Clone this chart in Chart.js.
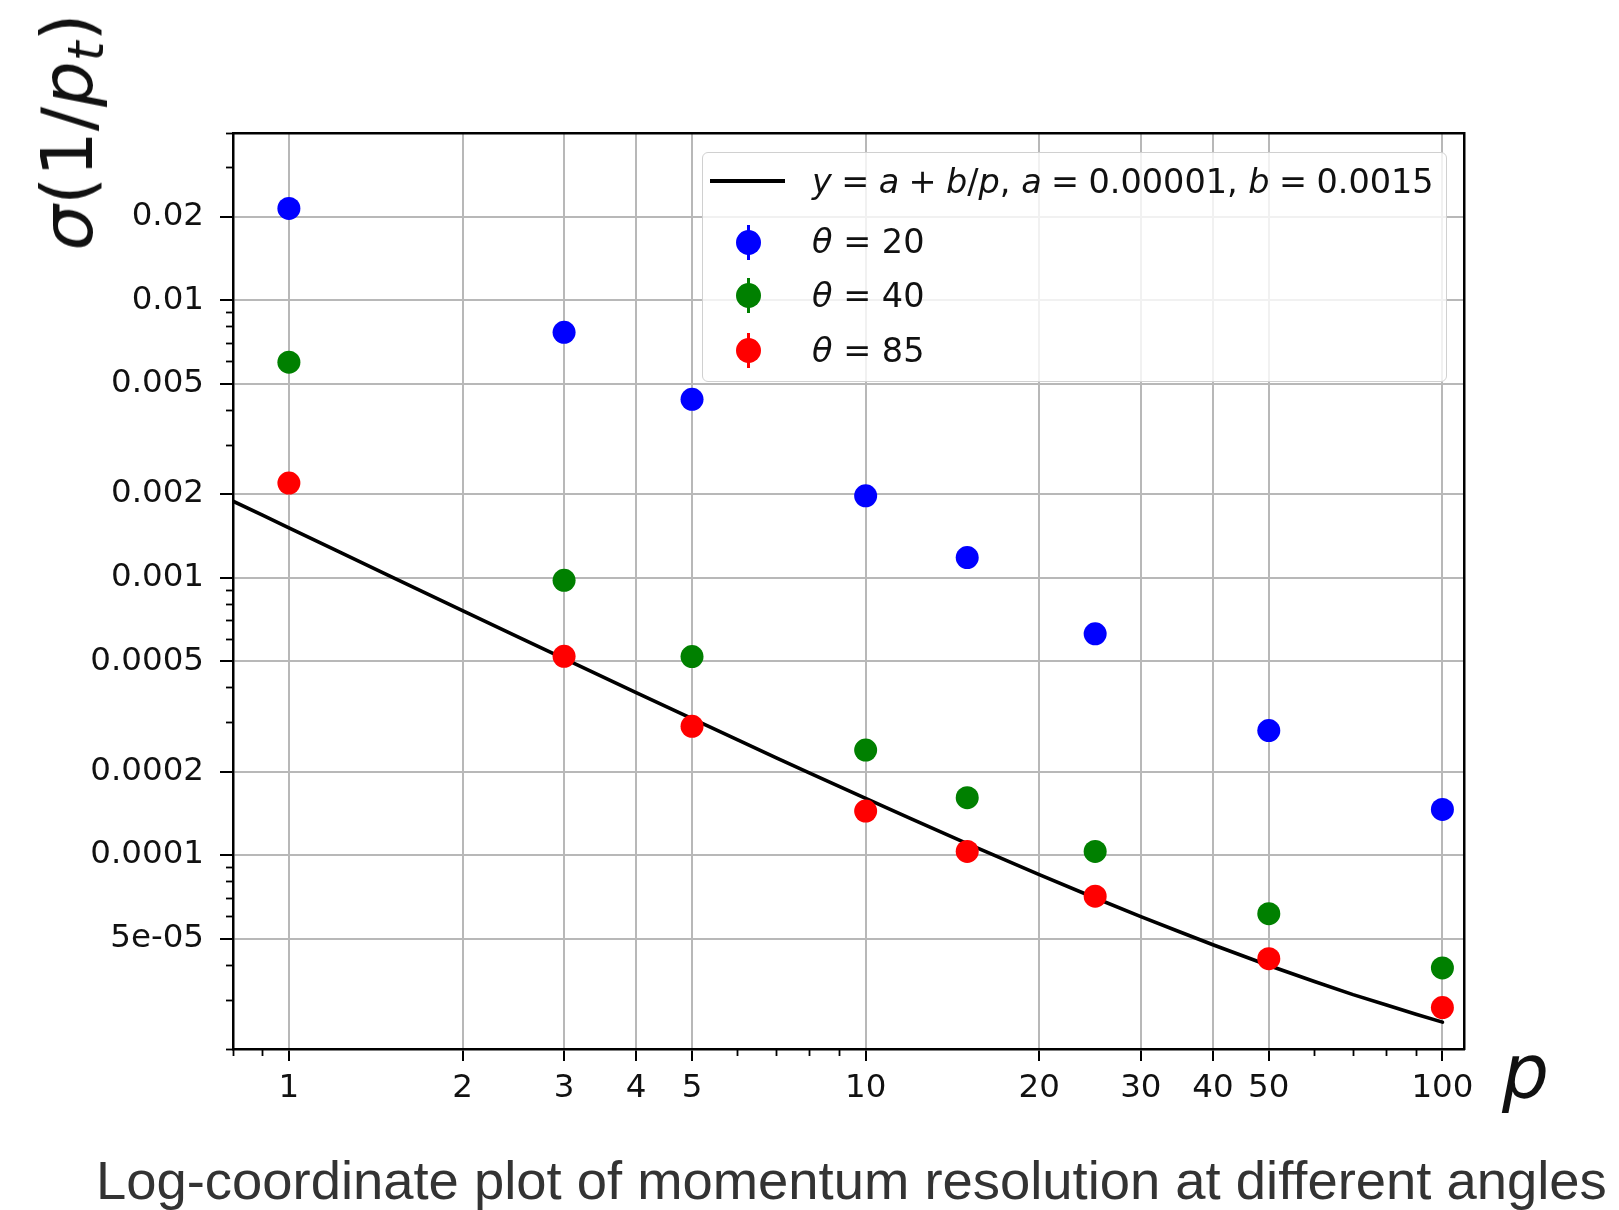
<!DOCTYPE html>
<html><head><meta charset="utf-8">
<script src="https://cdn.jsdelivr.net/npm/chart.js@4.4.1/dist/chart.umd.min.js"></script>
<style>
html,body{margin:0;padding:0;background:#fff;overflow:hidden;}
#wrap{position:relative;width:1619px;height:1210px;}
canvas{position:absolute;left:0;top:0;}
.txt{position:absolute;white-space:nowrap;font-family:'DejaVu Sans';color:#111;line-height:1;}
.it{font-style:italic;}
.op{margin:0 0.28em;}
.lg{font-size:33.5px;}
</style></head><body>
<div id="wrap">
<canvas id="c" width="1619" height="1210"></canvas>

<div id="ylabel" class="txt" style="font-size:72px;left:67px;top:132px;transform:translate(-50%,-50%) rotate(-90deg);"><span class="it">σ</span>(1/<span class="it">p</span><span class="it" style="font-size:0.7em;position:relative;top:0.22em">t</span>)</div>
<div id="xlabel" class="txt it" style="font-size:74px;left:1502px;top:1035px;">p</div>

<div id="legend" style="position:absolute;left:702px;top:152px;width:745px;height:230px;box-sizing:border-box;border:1.5px solid #d0d0d0;border-radius:6px;background:rgba(255,255,255,0.8);"></div>
<div style="position:absolute;left:710px;top:179px;width:75px;height:4px;background:#000"></div>
<div class="txt lg" style="left:812px;top:164.7px;"><span class="it">y</span><span class="op">=</span><span class="it">a</span><span class="op">+</span><span class="it">b</span>/<span class="it">p</span>, <span class="it">a</span><span class="op">=</span>0.00001, <span class="it">b</span><span class="op">=</span>0.0015</div>

<div style="position:absolute;left:746.5px;top:224.5px;width:3px;height:35px;background:#0000ff"></div>
<div style="position:absolute;left:735.5px;top:229.5px;width:25px;height:25px;border-radius:50%;background:#0000ff"></div>
<div class="txt lg" style="left:812px;top:224.7px;"><span class="it">θ</span> = 20</div>

<div style="position:absolute;left:746.5px;top:277.5px;width:3px;height:35px;background:#008000"></div>
<div style="position:absolute;left:735.5px;top:282.5px;width:25px;height:25px;border-radius:50%;background:#008000"></div>
<div class="txt lg" style="left:812px;top:278.7px;"><span class="it">θ</span> = 40</div>

<div style="position:absolute;left:746.5px;top:332.5px;width:3px;height:35px;background:#ff0000"></div>
<div style="position:absolute;left:735.5px;top:337.5px;width:25px;height:25px;border-radius:50%;background:#ff0000"></div>
<div class="txt lg" style="left:812px;top:333.7px;"><span class="it">θ</span> = 85</div>

<div id="caption" style="position:absolute;left:96px;top:1154px;white-space:nowrap;font-family:'Liberation Sans';font-size:54.4px;line-height:1;color:#333;">Log-coordinate plot of momentum resolution at different angles</div>
</div>
<script>
// ---- data ----
const pValues = [1, 3, 5, 10, 15, 25, 50, 100];
const theta20 = [0.0214, 0.00765, 0.00439, 0.00197, 0.00118, 0.000627, 0.000281, 0.000146];
const theta40 = [0.00597, 0.000977, 0.000519, 0.000239, 0.000161, 0.000103, 0.0000615, 0.0000392];
const theta85 = [0.00219, 0.00052, 0.000291, 0.000144, 0.000103, 0.0000711, 0.0000423, 0.0000282];
const seriesLabels = ['θ = 20', 'θ = 40', 'θ = 85'];
const fitLabel = 'y = a + b/p, a = 0.00001, b = 0.0015';
// fit curve samples
const lineP = [0.8, 0.9, 1, 1.2, 1.5, 2, 2.5, 3, 4, 5, 6, 7, 8, 10, 12, 15, 20, 25, 30, 35, 40, 50, 60, 70, 80, 90, 100];
const lineY = [0.001885, 0.001677, 0.00151, 0.00126, 0.00101, 0.00076, 0.00061, 0.00051, 0.000385, 0.00031, 0.00026, 0.000224, 0.0001975, 0.00016, 0.000135, 0.00011, 0.000085, 0.00007, 0.00006, 0.0000529, 0.0000475, 0.00004, 0.000035, 0.0000314, 0.0000288, 0.0000267, 0.000025];
// axes
const xMin = 0.8, xMax = 109;
const yMin = 0.00002, yMax = 0.04;
const xMajorTicks = [1, 2, 3, 4, 5, 10, 20, 30, 40, 50, 100];
const xMajorLabels = ['1', '2', '3', '4', '5', '10', '20', '30', '40', '50', '100'];
const xMinorTicks = [0.8, 0.9, 6, 7, 8, 9, 60, 70, 80, 90];
const yMajorTicks = [0.00005, 0.0001, 0.0002, 0.0005, 0.001, 0.002, 0.005, 0.01, 0.02];
const yMajorLabels = ['5e-05', '0.0001', '0.0002', '0.0005', '0.001', '0.002', '0.005', '0.01', '0.02'];
const yMinorTicks = [0.00002, 0.00003, 0.00004, 0.00006, 0.00007, 0.00008, 0.00009, 0.0003, 0.0004, 0.0006, 0.0007, 0.0008, 0.0009, 0.003, 0.004, 0.006, 0.007, 0.008, 0.009, 0.03, 0.04];
const colors = ['#0000ff', '#008000', '#ff0000'];

// ---- chart ----
const TICK_FONT = {family: 'DejaVu Sans', size: 32.5};
const TICK_COLOR = '#111';
const GRID_COLOR = '#b8b8b8';
function noPad(s) { s.paddingLeft = 0; s.paddingRight = 0; s.paddingTop = 0; s.paddingBottom = 0; }
function setTicks(arr) { return s => { s.ticks = arr.map(v => ({value: v})); }; }

const pts = arr => pValues.map((p, i) => ({x: p, y: arr[i]}));
const scatterSet = (label, arr, col) => ({
  label: label, data: pts(arr), showLine: false,
  pointRadius: 11.5, pointHoverRadius: 11.5,
  pointBackgroundColor: col, pointBorderColor: col, pointBorderWidth: 0,
  backgroundColor: col, borderColor: col, order: 1
});

new Chart(document.getElementById('c'), {
  type: 'scatter',
  data: {
    datasets: [
      scatterSet(seriesLabels[0], theta20, colors[0]),
      scatterSet(seriesLabels[1], theta40, colors[1]),
      scatterSet(seriesLabels[2], theta85, colors[2]),
      {
        label: fitLabel, data: lineP.map((p, i) => ({x: p, y: lineY[i]})),
        showLine: true, borderColor: '#000', backgroundColor: '#000', borderWidth: 3.6,
        borderJoinStyle: 'round', borderCapStyle: 'round',
        pointRadius: 0, pointHoverRadius: 0, fill: false, tension: 0, order: 5
      }
    ]
  },
  options: {
    responsive: false, animation: false, devicePixelRatio: 1,
    layout: {autoPadding: false, padding: {left: 0, top: 133, right: 155, bottom: 100}},
    plugins: {legend: {display: false}, tooltip: {enabled: false}, title: {display: false}},
    events: [],
    scales: {
      x: {
        type: 'logarithmic', position: 'bottom', weight: 1, min: xMin, max: xMax,
        afterBuildTicks: setTicks(xMajorTicks),
        afterFit: s => { s.height = 61; noPad(s); },
        ticks: {autoSkip: false, maxRotation: 0, minRotation: 0, font: TICK_FONT, color: TICK_COLOR, padding: 8,
                callback: (v, i) => xMajorLabels[i]},
        grid: {display: true, drawOnChartArea: true, drawTicks: true, color: GRID_COLOR, lineWidth: 2,
               tickColor: '#000', tickWidth: 2, tickLength: 12},
        border: {display: true, color: '#000', width: 2.5}
      },
      xMinor: {
        type: 'logarithmic', position: 'bottom', weight: 0, min: xMin, max: xMax, display: true,
        afterBuildTicks: setTicks(xMinorTicks),
        afterFit: s => { s.height = 0; noPad(s); },
        ticks: {display: false, autoSkip: false},
        grid: {display: true, drawOnChartArea: false, drawTicks: true, color: '#000', tickColor: '#000', tickWidth: 1.8, tickLength: 7},
        border: {display: false}
      },
      xTop: {
        type: 'logarithmic', position: 'top', min: xMin, max: xMax, display: true,
        afterBuildTicks: s => { s.ticks = []; },
        afterFit: s => { s.height = 0; noPad(s); },
        ticks: {display: false},
        grid: {display: false},
        border: {display: true, color: '#000', width: 2.5}
      },
      y: {
        type: 'logarithmic', position: 'left', weight: 1, min: yMin, max: yMax,
        afterBuildTicks: setTicks(yMajorTicks),
        afterFit: s => { s.width = 233; noPad(s); },
        ticks: {autoSkip: false, font: TICK_FONT, color: TICK_COLOR, padding: 16,
                callback: (v, i) => yMajorLabels[i]},
        grid: {display: true, drawOnChartArea: true, drawTicks: true, color: GRID_COLOR, lineWidth: 2,
               tickColor: '#000', tickWidth: 2, tickLength: 13},
        border: {display: true, color: '#000', width: 2.5}
      },
      yMinor: {
        type: 'logarithmic', position: 'left', weight: 0, min: yMin, max: yMax, display: true,
        afterBuildTicks: setTicks(yMinorTicks),
        afterFit: s => { s.width = 0; noPad(s); },
        ticks: {display: false, autoSkip: false},
        grid: {display: true, drawOnChartArea: false, drawTicks: true, color: '#000', tickColor: '#000', tickWidth: 1.8, tickLength: 7},
        border: {display: false}
      },
      yRight: {
        type: 'logarithmic', position: 'right', min: yMin, max: yMax, display: true,
        afterBuildTicks: s => { s.ticks = []; },
        afterFit: s => { s.width = 0; noPad(s); },
        ticks: {display: false},
        grid: {display: false},
        border: {display: true, color: '#000', width: 2.5}
      }
    }
  }
});
</script>
</body></html>
